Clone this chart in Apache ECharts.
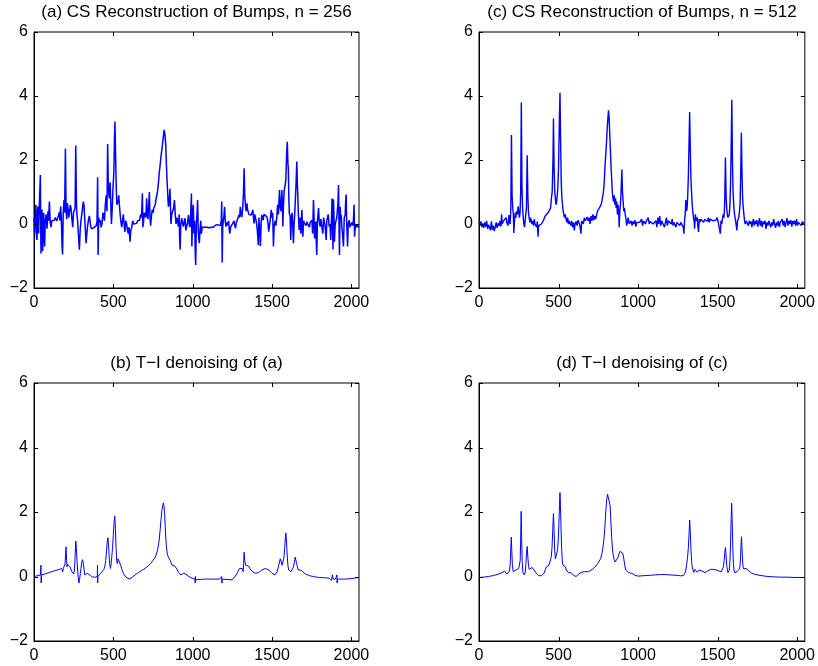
<!DOCTYPE html>
<html>
<head>
<meta charset="utf-8">
<script src="https://cdn.jsdelivr.net/npm/echarts/dist/echarts.min.js"></script>
<style>
html, body { margin: 0; padding: 0; background: #fff; }
#main { width: 818px; height: 666px; }
</style>
</head>
<body>
<div id="main"></div>
<script>
// panel titles, in drawing order a, c, b, d
var titles = [
    '(a) CS Reconstruction of Bumps, n = 256',
    '(c) CS Reconstruction of Bumps, n = 512',
    '(b) T\u2212I denoising of (a)',
    '(d) T\u2212I denoising of (c)'
];
var xTicks = [0, 500, 1000, 1500, 2000];
var yTicks = [-2, 0, 2, 4, 6];

// (a) CS reconstruction, n = 256  [sample index, value]
var csN256 = [
    [0,0.2],[4,-0.3],[8,0.3],[12,0.6],[16,-0.4],[19,-0.5],[22,0.4],[25,0.55],[29,-0.3],[34,0.65],[40,1.53],[44,-0.92],[47,0.2],[50,0.45],[55,-0.85],[58,0.1],[61,0.35],[64,-0.3],[67,-0.7],[71,0.1],[76,0.3],[82,-0.15],[88,0.4],[92,0.1],[97,0.7],
    [102,0.05],[107,-0.1],[112,0.1],[118,0.15],[123,0.05],[128,0.12],[134,0.2],[139,0.22],[144,0.1],[149,0.12],[154,0.25],[160,0.38],[164,0.1],[168,0.55],[172,0.2],[177,-0.7],[180,-0.95],[184,0.3],[189,0.75],[193,0.35],[198,2.35],
    [202,0.5],[206,0.15],[210,0.65],[214,0.5],[219,0.2],[225,0.15],[229,0.6],[233,0.5],[238,0.2],[244,-0.1],[249,0.35],[254,0.3],[259,0.5],[263,2.45],[267,0.8],[270,0.3],[274,0.15],[277,-0.1],[282,-0.5],[286,-0.8],[291,-0.2],[296,0.1],
    [301,0.3],[307,0.55],[311,0.7],[315,0.6],[319,0.2],[324,-0.2],[328,-0.6],[333,-0.3],[338,-0.05],[344,0.15],[349,0.25],[353,0.1],[357,-0.05],[362,-0.15],[366,-0.15],[371,-0.1],[376,-0.12],[382,-0.1],[387,-0.08],[392,-0.05],[397,0.08],
    [401,1.46],[404,-0.97],[408,0.2],[413,0.05],[418,0.12],[423,-0.1],[429,0.02],[434,0.35],[439,0.25],[444,0.1],[450,0.65],[455,0.9],[460,0.4],[464,2.5],[468,1.3],[472,0.9],[476,0.8],[480,1.3],[484,0.6],[488,0.0],[493,0.5],[498,1.15],
    [503,1.6],[507,2.6],[510,3.2],[514,2.2],[518,1.2],[522,0.6],[526,0.55],[530,0.7],[534,0.9],[538,0.6],[543,0.3],[548,0.05],[553,-0.1],[558,0.1],[563,0.3],[568,0.0],[573,-0.25],[578,0.1],[584,0.0],[589,-0.2],[594,-0.3],[599,-0.1],
    [605,-0.55],[610,-0.2],[616,-0.1],[622,0.1],[628,0.0],[634,0.05],[640,-0.02],[647,0.02],[653,0.1],[660,0.05],[666,0.12],[672,0.3],[678,0.2],[683,0.96],[686,-0.1],[690,0.05],[695,0.35],[700,0.3],
    [705,0.2],[710,0.8],[714,0.3],[718,0.15],[722,0.5],[727,1.0],[731,0.2],[735,-0.05],[740,0.25],[745,0.45],[750,0.35],[755,0.5],[760,0.55],[764,0.6],[768,0.75],[773,0.8],[778,1.0],[784,1.27],[789,1.6],[794,1.8],
    [800,2.1],[805,2.3],[810,2.5],[815,2.73],[820,2.94],[825,2.8],[830,2.5],[834,1.9],[838,1.4],[843,0.9],[847,0.54],[852,0.7],[857,1.1],[860,0.5],[863,0.0],[868,0.3],[874,0.25],[880,0.5],[885,0.75],[890,0.3],[895,0.0],
    [900,0.2],[905,0.1],[910,-0.08],[915,0.3],[918,-0.5],[921,-0.8],[925,0.0],[931,0.18],[937,0.0],[942,-0.08],[947,0.1],[952,0.18],[957,-0.2],[963,-0.18],[968,0.05],[973,0.28],[978,0.0],[983,-0.1],[988,0.4],[992,0.95],[995,-0.7],[999,0.2],
    [1004,0.6],[1008,-0.3],[1012,0.1],[1016,-0.9],[1019,-1.28],[1023,0.0],[1027,0.3],[1031,0.75],[1035,-0.2],[1039,-0.5],[1042,-0.6],[1046,-0.2],[1051,0.1],[1055,-0.3],[1060,-0.1],[1065,-0.15],[1070,-0.08],[1076,-0.1],[1082,-0.06],[1090,-0.1],[1097,-0.07],
    [1104,-0.12],[1110,-0.08],[1117,-0.1],[1124,-0.05],[1130,-0.1],[1137,-0.08],[1143,-0.04],[1150,-0.08],[1156,-0.02],[1162,-0.06],[1168,0.0],[1174,-0.05],[1180,0.1],[1183,0.7],[1186,-1.2],[1189,-0.1],[1193,0.1],[1197,0.25],
    [1201,0.54],[1205,0.1],[1210,-0.08],[1215,0.05],[1220,-0.03],[1226,0.1],[1231,-0.2],[1234,-0.3],[1239,-0.1],[1245,-0.15],[1250,0.0],[1255,-0.03],[1260,0.1],[1265,-0.05],[1270,-0.13],[1275,0.05],[1281,0.12],[1286,0.2],[1291,0.28],[1296,0.2],
    [1300,0.54],[1305,0.3],[1310,0.22],[1315,0.5],[1320,0.96],[1324,1.74],[1328,0.9],[1333,0.54],[1337,0.4],[1342,0.65],[1346,0.45],[1350,0.38],[1354,0.3],[1358,0.33],[1363,0.35],[1369,0.28],[1374,0.3],[1379,0.44],[1383,0.2],[1387,0.02],[1391,0.3],[1395,0.33],
    [1400,0.1],[1406,-0.13],[1410,-0.4],[1414,-0.66],[1417,0.2],[1420,0.18],[1424,-0.3],[1427,-0.69],[1431,0.0],[1435,0.28],[1440,0.2],[1444,0.12],[1449,0.3],[1454,0.28],[1460,0.35],[1467,0.23],[1473,0.1],[1479,-0.24],[1484,-0.2],[1488,0.1],[1492,0.3],[1495,0.44],[1499,0.2],
    [1504,0.35],[1507,-0.3],[1509,-0.7],[1513,-0.1],[1519,0.1],[1524,-0.05],[1530,0.2],[1535,0.6],[1540,0.3],[1547,1.06],[1551,0.54],[1556,0.4],[1562,1.06],[1566,0.5],[1568,-0.08],[1572,0.6],[1577,1.06],[1582,1.2],[1587,1.38],[1592,2.2],[1596,2.57],
    [1600,1.9],[1603,1.7],[1606,0.8],[1609,0.33],[1614,0.25],[1618,-0.5],[1622,0.2],[1627,0.35],[1632,0.3],[1635,-0.6],[1639,0.0],[1643,0.33],[1647,0.3],[1651,1.2],[1656,1.95],[1660,1.2],[1662,0.96],[1666,0.3],[1671,-0.19],[1675,0.0],[1678,0.2],[1682,-0.3],[1688,0.44],[1694,-0.4],[1699,0.1],
    [1704,0.02],[1710,0.08],[1715,-0.05],[1719,0.07],[1725,0.0],[1730,0.02],[1735,-0.1],[1740,0.05],[1745,0.1],[1751,0.12],[1756,-0.3],[1761,0.75],[1765,0.2],[1768,-0.45],[1772,0.0],[1776,0.07],[1779,-0.6],[1782,-0.97],[1786,0.1],[1790,0.3],[1793,0.5],[1797,0.1],
    [1803,-0.08],[1808,0.15],[1814,0.18],[1817,-0.2],[1820,-0.3],[1825,0.2],[1830,0.07],[1835,-0.1],[1838,-0.3],[1841,-0.5],[1845,0.1],[1849,0.12],[1854,0.3],[1860,-0.08],[1865,0.0],[1870,-0.5],[1875,0.2],[1878,0.8],[1881,0.28],[1884,-0.8],[1887,0.77],[1890,0.3],[1893,-0.55],[1898,0.0],
    [1904,0.12],[1908,0.2],[1912,0.44],[1915,0.6],[1919,1.22],[1922,0.0],[1925,-0.97],[1929,0.54],[1933,0.2],[1936,0.28],[1940,-0.1],[1944,-0.3],[1947,-0.5],[1950,-0.7],[1955,0.2],[1961,0.28],[1964,0.7],[1967,0.92],[1970,0.1],[1973,-0.3],[1976,-0.7],[1980,0.0],[1986,0.12],[1991,-0.1],[1997,-0.08],
    [2002,0.05],[2008,-0.05],[2013,0.12],[2017,0.6],[2020,-0.4],[2023,-0.19],[2026,0.0],[2029,0.02],[2033,-0.1],[2038,-0.13],[2041,0.0],[2044,-0.09],[2048,-0.1]
];

// (c) CS reconstruction, n = 512
var csN512 = [
    [0,0.05],[6,-0.05],[12,0.08],[18,-0.1],[24,0.02],[30,-0.12],[36,0.05],[42,-0.08],[48,0.1],[54,-0.15],[60,-0.02],[66,0.0],[72,-0.2],[78,0.08],[84,-0.18],[90,-0.05],[96,-0.22],
    [102,-0.1],[108,0.05],[114,-0.12],[120,0.02],[126,-0.06],[132,0.1],[138,-0.08],[142,0.3],[146,0.0],[152,0.08],[158,0.12],[164,0.05],[170,0.2],[176,0.02],[182,-0.05],[188,0.28],[192,0.08],[196,0.0],
    [200,0.5],[204,2.78],[208,0.9],[212,0.5],[216,0.3],[219,-0.28],[223,0.1],[228,0.35],[232,0.2],[236,0.4],[241,0.3],[246,0.55],[250,0.5],[254,0.2],[258,0.35],[262,1.0],[266,3.8],[270,1.2],[274,0.5],[278,0.2],[282,0.0],[286,-0.1],[290,0.1],[294,0.3],[298,0.5],
    [303,2.15],[307,0.9],[311,0.35],[315,0.2],[320,0.05],[324,0.2],[328,0.15],[333,0.0],[338,0.1],[343,-0.05],[348,0.15],[352,0.0],[357,0.05],[362,-0.1],[367,0.08],[371,-0.4],[375,-0.05],[380,0.0],[386,-0.05],[392,0.0],[398,0.05],
    [404,0.1],[410,0.15],[416,0.25],[422,0.3],[428,0.2],[434,0.35],[440,0.35],[446,0.4],[450,0.5],[455,0.8],[460,1.0],[465,2.0],[468,3.3],[472,1.8],[476,1.0],[480,0.8],[484,0.6],[488,0.7],[492,0.9],[496,1.2],
    [500,1.8],[505,3.2],[509,4.1],[513,2.6],[517,1.3],[521,0.8],[525,0.6],[529,0.4],[533,0.35],[537,0.2],[542,0.3],[547,0.15],[552,0.05],[557,0.2],[562,0.0],[567,0.1],[572,0.08],[577,-0.05],[582,0.1],[588,-0.1],[594,0.05],[599,-0.2],
    [604,0.0],[610,0.08],[616,-0.05],[622,0.12],[628,0.05],[634,-0.05],[641,-0.3],[645,0.1],[650,0.15],[656,0.0],[662,0.2],[668,0.1],[674,0.05],[680,0.22],[686,0.1],[692,0.2],[698,0.0],
    [704,0.25],[710,0.1],[716,0.3],[722,0.12],[728,0.25],[734,0.15],[740,0.3],[745,0.4],[750,0.35],[756,0.5],[762,0.45],[767,0.6],[772,0.7],[777,0.85],[782,1.0],[787,1.3],[792,1.8],[797,2.2],
    [802,2.6],[806,3.0],[810,3.3],[814,3.55],[818,3.3],[822,2.8],[826,2.3],[830,1.8],[834,1.4],[838,1.0],[842,0.8],[846,0.7],[850,0.9],[854,0.6],[858,0.8],[862,0.5],[866,0.7],[870,0.3],[874,0.6],[878,0.4],[881,-0.1],[885,0.4],[889,0.6],[893,1.0],[898,1.7],
    [902,1.0],[906,0.7],[910,0.4],[914,0.5],[919,0.3],[924,0.15],[928,-0.05],[933,-0.1],[938,0.2],[944,0.0],[950,0.05],[956,0.1],[962,-0.05],[968,0.08],[974,0.0],[980,0.12],[986,-0.08],[992,0.05],[998,0.1],
    [1004,0.0],[1010,0.05],[1016,0.03],[1022,0.15],[1028,-0.05],[1034,0.1],[1040,0.05],[1046,0.0],[1052,0.1],[1058,0.05],[1064,0.2],[1070,0.0],[1076,0.08],[1082,0.05],[1088,0.07],[1094,0.0],
    [1100,0.05],[1106,0.06],[1112,0.1],[1118,-0.1],[1124,0.2],[1130,0.0],[1136,0.25],[1142,-0.05],[1148,0.1],[1154,0.05],[1160,0.15],[1166,-0.1],[1172,0.05],[1178,0.2],[1184,-0.05],[1190,0.1],[1196,0.05],
    [1202,0.08],[1208,0.0],[1214,0.15],[1220,-0.05],[1226,0.05],[1232,0.1],[1238,-0.1],[1244,0.05],[1250,0.0],[1256,0.1],[1262,-0.05],[1268,0.05],[1274,0.0],[1280,0.1],[1284,-0.1],[1288,-0.3],[1292,0.1],[1296,0.3],
    [1300,0.75],[1304,0.4],[1308,0.5],[1312,0.9],[1316,1.5],[1320,2.5],[1324,3.5],[1328,2.4],[1332,1.4],[1336,1.0],[1340,0.6],[1344,0.4],[1348,0.2],[1352,0.1],[1355,-0.15],[1360,0.3],[1364,0.1],[1368,0.05],[1372,0.2],[1376,-0.1],[1380,-0.25],[1384,0.15],[1388,0.05],[1394,0.15],
    [1400,0.1],[1406,0.2],[1412,0.05],[1418,0.15],[1424,0.1],[1430,0.18],[1436,0.08],[1442,0.2],[1448,0.05],[1454,0.15],[1460,0.1],[1466,0.2],[1472,0.1],[1478,0.15],[1484,0.05],[1490,0.12],[1496,0.2],
    [1502,0.1],[1508,0.05],[1513,-0.2],[1517,-0.3],[1521,0.1],[1526,0.0],[1530,0.15],[1535,0.3],[1540,0.2],[1544,0.6],[1549,2.08],[1553,0.9],[1557,0.5],[1561,0.3],[1565,0.2],[1569,0.15],[1573,0.3],[1577,0.6],[1581,1.2],[1585,2.4],[1589,3.88],[1593,2.0],[1597,1.0],
    [1601,0.6],[1605,0.35],[1609,0.2],[1613,0.1],[1617,0.05],[1621,-0.2],[1625,0.1],[1629,0.15],[1633,0.2],[1637,0.25],[1641,0.6],[1645,1.6],[1649,2.85],[1653,1.6],[1657,0.8],[1661,0.5],[1665,0.3],[1669,0.1],[1673,0.0],[1678,0.1],[1683,0.05],[1688,0.12],[1693,-0.05],[1698,0.1],
    [1704,0.0],[1710,0.08],[1715,-0.1],[1720,0.05],[1725,0.15],[1730,-0.05],[1735,0.1],[1740,0.0],[1746,0.12],[1752,-0.08],[1758,0.05],[1763,0.18],[1768,-0.05],[1774,0.1],[1780,-0.1],[1786,0.08],[1792,0.0],[1798,0.1],
    [1804,-0.15],[1810,0.05],[1816,-0.05],[1822,0.1],[1828,0.0],[1834,-0.1],[1840,0.05],[1846,-0.05],[1852,0.15],[1858,0.0],[1864,-0.12],[1870,0.05],[1876,-0.05],[1882,0.1],[1888,-0.1],[1894,0.05],
    [1900,0.0],[1906,0.15],[1912,-0.05],[1918,0.1],[1924,-0.1],[1930,0.05],[1936,0.18],[1942,-0.05],[1948,0.1],[1954,0.0],[1960,0.12],[1966,-0.08],[1972,0.1],[1978,0.0],[1984,0.1],[1990,-0.05],[1996,0.15],
    [2002,-0.05],[2008,0.05],[2014,0.0],[2020,0.1],[2026,-0.05],[2032,0.08],[2038,0.0],[2044,0.05],[2048,0.02]
];

// (b) T-I denoising of (a)
var tiOfA = [
    [0,0.0],[20,0.02],[40,0.05],[44,0.35],[45,-0.2],[48,0.05],[70,0.08],[100,0.13],[130,0.18],[160,0.22],[175,0.25],[181,0.15],[185,0.25],[190,0.3],[196,0.4],
    [200,0.8],[202,0.92],[205,0.5],[208,0.3],[212,0.38],[217,0.4],[222,0.35],[227,0.3],[233,0.25],[238,0.15],[244,0.1],[250,0.08],[255,0.2],[259,0.6],[263,1.1],[267,0.9],[271,0.5],[275,0.2],[279,-0.05],[283,-0.2],[287,-0.1],[292,0.1],[296,0.25],
    [301,0.45],[306,0.52],[311,0.4],[316,0.2],[320,0.05],[325,0.0],[330,0.05],[336,0.1],[342,0.12],[348,0.08],[355,0.03],[362,0.0],[370,-0.02],[378,-0.03],[386,-0.02],[394,-0.02],[399,0.0],
    [400,0.35],[401,-0.2],[403,0.0],[410,0.05],[420,0.1],[430,0.15],[440,0.22],[446,0.3],[452,0.5],[457,0.8],[462,1.1],[466,1.2],[470,0.95],[474,0.6],[478,0.35],[482,0.25],[486,0.4],[490,0.6],[495,0.9],
    [500,1.3],[505,1.7],[509,1.88],[513,1.5],[517,0.9],[521,0.5],[525,0.4],[530,0.55],[535,0.6],[540,0.5],[546,0.35],[552,0.25],[558,0.15],[565,0.08],[572,0.02],[580,-0.02],[590,-0.06],
    [600,-0.08],[610,-0.06],[620,-0.02],[630,0.02],[645,0.08],[660,0.13],[675,0.18],[690,0.22],[705,0.27],[720,0.33],[735,0.4],[750,0.5],[762,0.58],[772,0.7],[780,0.85],[788,1.1],[795,1.45],
    [801,1.8],[806,2.05],[811,2.2],[815,2.28],[819,2.2],[823,1.95],[827,1.55],[831,1.15],[836,0.85],[841,0.68],[846,0.6],[852,0.55],[858,0.5],[864,0.42],[870,0.35],[878,0.32],[886,0.33],[894,0.3],
    [902,0.22],[910,0.12],[918,0.07],[926,0.05],[934,0.07],[942,0.1],[950,0.1],[958,0.07],[966,0.03],[975,0.0],[985,-0.02],[995,-0.05],
    [1005,-0.07],[1014,-0.08],[1016,-0.2],[1017,0.0],[1019,-0.1],[1030,-0.1],[1050,-0.09],[1080,-0.08],[1110,-0.08],[1140,-0.08],[1170,-0.08],[1182,-0.08],[1183,0.0],[1184,-0.2],[1186,-0.08],
    [1210,-0.09],[1235,-0.1],[1250,-0.1],[1262,-0.05],[1274,0.05],[1285,0.15],[1295,0.25],[1305,0.3],[1312,0.25],[1318,0.15],[1321,0.4],[1324,0.75],[1328,0.5],[1333,0.35],[1338,0.4],[1345,0.38],[1352,0.32],[1360,0.25],[1368,0.2],[1376,0.15],[1385,0.12],[1395,0.1],
    [1405,0.1],[1415,0.12],[1425,0.15],[1435,0.2],[1445,0.23],[1458,0.25],[1470,0.24],[1480,0.2],[1490,0.15],[1500,0.1],[1510,0.06],[1518,0.05],[1525,0.08],[1532,0.15],[1540,0.3],[1547,0.45],[1552,0.55],[1558,0.45],[1563,0.35],[1568,0.4],[1575,0.6],[1580,0.9],[1584,1.2],[1587,1.35],[1591,1.1],[1595,0.7],
    [1600,0.35],[1605,0.2],[1612,0.15],[1620,0.15],[1628,0.2],[1635,0.3],[1641,0.45],[1646,0.6],[1650,0.55],[1655,0.4],[1660,0.3],[1665,0.2],[1670,0.18],[1675,0.22],[1680,0.2],[1686,0.2],[1693,0.15],
    [1700,0.1],[1712,0.07],[1725,0.05],[1740,0.02],[1760,0.0],[1780,-0.02],[1800,-0.03],[1830,-0.04],[1860,-0.05],[1866,-0.1],[1870,0.0],[1875,-0.12],[1880,0.05],[1885,-0.08],
    [1900,-0.08],[1908,-0.08],[1909,0.05],[1910,-0.2],[1912,-0.08],[1930,-0.08],[1955,-0.08],[1958,-0.03],[1959,-0.12],[1962,-0.08],[1990,-0.07],[2020,-0.05],[2048,-0.03]
];

// (d) T-I denoising of (c)
var tiOfC = [
    [0,-0.03],[30,-0.02],[60,0.0],[90,0.03],[120,0.07],[145,0.12],[160,0.17],[168,0.15],[175,0.08],[182,0.1],[190,0.15],[196,0.35],
    [200,0.9],[203,1.22],[206,0.8],[210,0.35],[215,0.15],[220,0.1],[226,0.15],[232,0.2],[238,0.2],[244,0.25],[250,0.25],[255,0.22],[259,0.5],[262,1.2],[265,2.02],[268,1.2],[272,0.4],[276,0.12],[281,0.07],[286,0.05],[291,0.15],[295,0.4],[299,0.75],
    [303,0.93],[307,0.6],[311,0.35],[316,0.22],[322,0.2],[328,0.25],[334,0.28],[340,0.25],[346,0.2],[352,0.15],[360,0.1],[368,0.06],[376,0.03],[384,0.02],[392,0.02],
    [400,0.05],[408,0.1],[416,0.2],[424,0.3],[432,0.33],[440,0.35],[448,0.4],[454,0.6],[459,0.9],[464,1.5],[468,1.95],[472,1.4],[476,0.8],[480,0.55],[484,0.5],[488,0.6],[493,0.8],[498,1.1],
    [502,1.6],[506,2.2],[509,2.6],[512,2.2],[516,1.4],[520,0.8],[524,0.45],[528,0.35],[533,0.3],[538,0.32],[543,0.3],[548,0.2],[555,0.15],[562,0.12],[570,0.1],[578,0.12],[586,0.1],[594,0.04],
    [602,0.0],[610,0.0],[618,0.03],[626,0.07],[634,0.1],[642,0.13],[652,0.15],[664,0.15],[676,0.14],[688,0.15],[700,0.18],[712,0.22],[724,0.27],[736,0.33],[746,0.4],[756,0.48],[764,0.55],[772,0.7],[779,0.9],[786,1.2],[792,1.6],[798,2.1],
    [803,2.4],[808,2.55],[814,2.58],[819,2.5],[824,2.2],[829,1.7],[834,1.2],[839,0.85],[844,0.65],[850,0.52],[856,0.45],[862,0.45],[868,0.5],[874,0.6],[880,0.7],[886,0.78],[892,0.82],[898,0.8],
    [904,0.72],[910,0.55],[916,0.35],[922,0.2],[930,0.15],[940,0.12],[950,0.12],[960,0.1],[970,0.07],[980,0.04],[990,0.02],
    [1000,0.01],[1020,0.02],[1050,0.03],[1080,0.04],[1110,0.05],[1140,0.06],[1170,0.06],[1200,0.05],[1230,0.04],[1255,0.03],[1268,0.02],[1278,0.0],[1286,0.03],[1294,0.1],
    [1300,0.2],[1306,0.4],[1311,0.6],[1316,0.9],[1320,1.3],[1324,1.75],[1328,1.4],[1332,0.85],[1336,0.5],[1340,0.3],[1345,0.2],[1350,0.13],[1354,0.15],[1358,0.22],[1362,0.25],[1367,0.18],[1372,0.13],[1378,0.16],[1384,0.2],[1390,0.18],[1396,0.15],
    [1402,0.17],[1408,0.18],[1414,0.14],[1420,0.12],[1428,0.14],[1436,0.17],[1446,0.2],[1456,0.22],[1468,0.22],[1480,0.22],[1492,0.2],
    [1504,0.18],[1514,0.15],[1522,0.14],[1530,0.2],[1536,0.3],[1541,0.5],[1545,0.75],[1549,0.9],[1553,0.65],[1557,0.35],[1561,0.2],[1565,0.12],[1569,0.12],[1573,0.2],[1577,0.45],[1581,1.0],[1585,1.8],[1588,2.27],[1591,1.8],[1595,0.9],[1599,0.4],
    [1603,0.2],[1607,0.12],[1612,0.08],[1617,0.1],[1622,0.15],[1628,0.2],[1634,0.22],[1640,0.3],[1644,0.6],[1647,1.0],[1650,1.23],[1653,0.9],[1657,0.45],[1661,0.25],[1666,0.2],[1672,0.22],[1678,0.25],[1684,0.2],[1690,0.22],[1696,0.18],
    [1704,0.14],[1714,0.1],[1726,0.08],[1740,0.06],[1760,0.04],[1785,0.02],[1815,0.0],[1850,-0.01],[1890,-0.02],[1930,-0.02],[1980,-0.03],[2048,-0.03]
];

var panelData = [csN256, csN512, tiOfA, tiOfC];
var lineWidths = [1.5, 1.4, 1, 1];

// plot boxes in pixels (a, c, b, d)
var boxes = [
    { left: 34, top: 32, width: 325, height: 256 },
    { left: 479, top: 32, width: 326, height: 256 },
    { left: 34, top: 383, width: 325, height: 258 },
    { left: 479, top: 383, width: 326, height: 258 }
];

var font = 'Liberation Sans, Arial, Helvetica, sans-serif';
var tickLen = 4;
var myChart = echarts.init(document.getElementById('main'));

var grids = [], xAxes = [], yAxes = [], series = [];

boxes.forEach(function (b, i) {
    grids.push({
        left: b.left, top: b.top, width: b.width, height: b.height,
        show: true, borderColor: '#000'
    });
    xAxes.push({
        type: 'value', gridIndex: i, position: 'bottom',
        min: 0, max: 2048, interval: 500,
        axisLine: { show: true, onZero: false, lineStyle: { color: '#000' } },
        axisTick: { show: false },
        splitLine: { show: false },
        axisLabel: {
            margin: 7, color: '#000', fontSize: 16, fontFamily: font,
            showMaxLabel: false,
            formatter: function (v) { return xTicks.indexOf(v) >= 0 ? String(v) : ''; }
        }
    });
    yAxes.push({
        type: 'value', gridIndex: i, position: 'left',
        min: -2, max: 6, interval: 2,
        axisLine: { show: true, onZero: false, lineStyle: { color: '#000' } },
        axisTick: { show: false },
        splitLine: { show: false },
        axisLabel: {
            margin: 6, color: '#000', fontSize: 16, fontFamily: font,
            formatter: function (v) { return yTicks.indexOf(v) >= 0 ? String(v).replace('-', '\u2212') : ''; }
        }
    });
    series.push({
        type: 'line',
        xAxisIndex: i,
        yAxisIndex: i,
        data: panelData[i],
        showSymbol: false,
        lineStyle: { color: '#0000ff', width: lineWidths[i] }
    });
});

myChart.setOption({
    backgroundColor: '#fff',
    animation: false,
    grid: grids,
    xAxis: xAxes,
    yAxis: yAxes,
    series: series
});

// titles plus inward tick marks on all four sides, placed through each grid's own scales
var graphics = [];
function tick(x1, y1, x2, y2) {
    graphics.push({
        type: 'line', silent: true, z: 10,
        shape: { x1: x1, y1: y1, x2: x2, y2: y2 },
        style: { stroke: '#000', lineWidth: 1 }
    });
}
boxes.forEach(function (b, i) {
    var finder = { xAxisIndex: i, yAxisIndex: i };
    xTicks.forEach(function (v) {
        var bot = myChart.convertToPixel(finder, [v, -2]);
        var top = myChart.convertToPixel(finder, [v, 6]);
        var x = Math.round(bot[0]) + 0.5;
        tick(x, bot[1], x, bot[1] - tickLen);
        tick(x, top[1], x, top[1] + tickLen);
    });
    yTicks.forEach(function (v) {
        var lft = myChart.convertToPixel(finder, [0, v]);
        var rgt = myChart.convertToPixel(finder, [2048, v]);
        var y = Math.round(lft[1]) + 0.5;
        tick(lft[0], y, lft[0] + tickLen, y);
        tick(rgt[0], y, rgt[0] - tickLen, y);
    });
    graphics.push({
        type: 'text', silent: true,
        x: b.left + b.width / 2,
        y: b.top - 20,
        style: {
            text: titles[i],
            fill: '#000',
            font: '17px ' + font,
            textAlign: 'center',
            textVerticalAlign: 'middle'
        }
    });
});
myChart.setOption({ graphic: graphics });
</script>
</body>
</html>
